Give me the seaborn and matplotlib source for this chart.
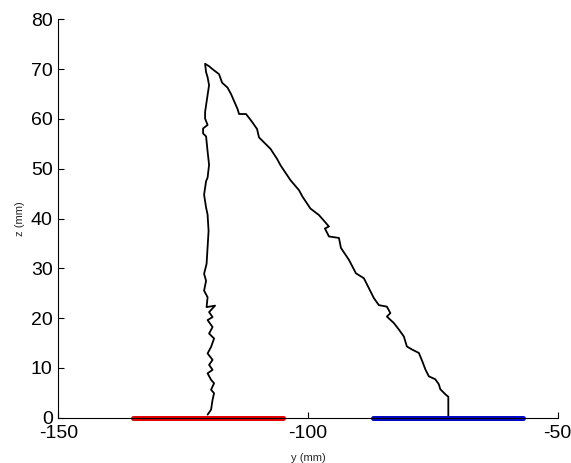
import matplotlib
matplotlib.use("Agg")
import matplotlib.pyplot as plt
import seaborn as sns
import pandas as pd

# trajectory (y, z) in mm
traj_y = [
    -120.1, -119.4, -119.1, -118.8, -119.4, -118.8, -119.4, -120.1, -119.1, -119.8,
    -119.1, -120.1, -119.4, -118.8, -119.8, -119.1, -120.1, -119.1, -119.8, -118.6,
    -120.3, -120.1, -120.8, -120.4, -120.8, -120.3, -120.1, -119.9, -120.1, -120.4,
    -120.8, -120.4, -120.1, -119.8, -120.1, -120.4, -121.0, -121.0, -120.1, -120.6,
    -120.6, -120.1, -119.8, -120.1, -120.4, -120.6,
    -119.8, -119.1, -117.8, -117.2, -116.1, -115.4, -114.1, -113.8, -112.4, -111.4,
    -110.2, -109.8, -108.8, -107.5, -106.2, -105.5, -103.5, -101.8, -101.1, -99.5,
    -97.8, -95.8, -96.6, -95.8, -93.8, -93.4, -91.8, -90.4, -88.8, -87.8,
    -86.8, -85.8, -84.2, -83.5, -84.2, -82.8, -81.8, -80.8, -80.2, -79.2,
    -77.8, -77.1, -76.5, -75.8, -74.5, -73.8, -73.5, -72.4, -71.9, -71.9,
]
traj_z = [
    0.6, 1.6, 3.6, 4.9, 5.6, 6.9, 7.6, 8.9, 9.6, 10.6,
    11.6, 12.9, 14.2, 15.9, 16.9, 18.2, 19.6, 20.2, 21.2, 22.5,
    22.2, 24.2, 25.5, 27.5, 28.9, 30.9, 34.2, 37.5, 40.8, 42.2,
    44.8, 47.5, 48.2, 50.8, 53.5, 56.5, 57.1, 58.1, 58.8, 60.1,
    61.4, 64.8, 66.8, 68.4, 69.4, 71.1,
    70.6, 70.0, 69.0, 67.3, 66.3, 65.0, 62.0, 61.0, 61.0, 59.7,
    58.0, 56.3, 55.3, 54.0, 52.0, 50.7, 47.7, 45.7, 44.4, 42.0,
    40.7, 38.4, 38.0, 36.4, 36.1, 34.1, 31.7, 29.0, 28.0, 26.0,
    24.0, 22.6, 22.3, 21.0, 20.3, 19.0, 17.7, 16.3, 14.3, 13.7,
    13.0, 11.3, 9.7, 8.3, 7.7, 6.7, 5.7, 4.6, 4.2, 0.3,
]

red_y = [-135.0, -105.0]
blue_y = [-87.0, -57.0]
ground_z = [0.0, 0.0]

x_ticks = [-150, -100, -50]
z_ticks = [0, 10, 20, 30, 40, 50, 60, 70, 80]

sns.set_style("ticks")
plt.rcParams["font.family"] = ["Liberation Sans", "DejaVu Sans"]
plt.rcParams["axes.unicode_minus"] = False

fig = plt.figure(figsize=(5.71, 4.63), dpi=100)
ax = fig.add_axes([0.102, 0.098, 0.8747, 0.86])

df = pd.DataFrame({"y": traj_y, "z": traj_z})
sns.lineplot(data=df, x="y", y="z", sort=False, estimator=None,
             color="black", linewidth=1.3, ax=ax)
sns.lineplot(x=red_y, y=ground_z, color="#e80000", linewidth=3.6,
             solid_capstyle="round", ax=ax, clip_on=False)
sns.lineplot(x=blue_y, y=ground_z, color="#0008c8", linewidth=3.6,
             solid_capstyle="round", ax=ax, clip_on=False)

ax.set_xlim(-150, -50)
ax.set_ylim(0, 80)
ax.set_xticks(x_ticks)
ax.set_yticks(z_ticks)
ax.tick_params(direction="in", length=4, width=0.8, labelsize=14,
               colors="black")
ax.tick_params(axis="x", pad=5)
ax.tick_params(axis="y", pad=4)
ax.set_xlabel("y (mm)", fontsize=8, labelpad=8)
ax.set_ylabel("z (mm)", fontsize=8, labelpad=4)
sns.despine(ax=ax)
for s in ("left", "bottom"):
    ax.spines[s].set_color("black")
    ax.spines[s].set_linewidth(0.8)

fig.savefig("out.png", dpi=100)
